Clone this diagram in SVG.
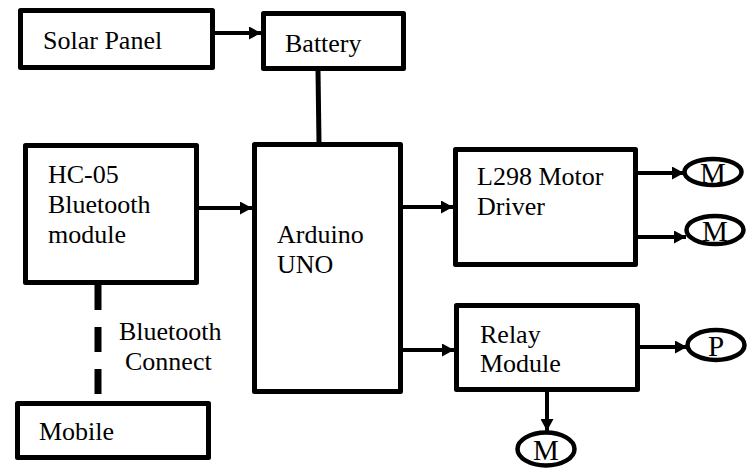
<svg xmlns="http://www.w3.org/2000/svg" width="749" height="470" viewBox="0 0 749 470">
<defs>
<marker id="ah" markerUnits="userSpaceOnUse" markerWidth="13" markerHeight="13" refX="12" refY="6.5" orient="auto">
<path d="M0,0 L12,6.5 L0,13 Z" fill="#000"/>
</marker>
<style>
.box{fill:#fff;stroke:#000;stroke-width:5;stroke-linejoin:round}
.ell{fill:#fff;stroke:#000;stroke-width:4.5}
text{font-family:'Liberation Serif','Times New Roman',serif;fill:#000}
.t{font-size:26px}
.tm{font-size:29px;text-anchor:middle}
.c{stroke:#000;stroke-width:5;fill:none}
.ca{stroke:#000;stroke-width:4;fill:none;marker-end:url(#ah)}
</style>
</defs>
<rect width="749" height="470" fill="#fff"/>
<g id="connectors">
<line class="ca" x1="215" y1="33" x2="261" y2="33"/>
<line class="c" x1="318" y1="70" x2="319" y2="143"/>
<line class="ca" x1="199" y1="208" x2="252" y2="208"/>
<line class="ca" x1="403" y1="207" x2="453" y2="207"/>
<line class="ca" x1="638" y1="173" x2="684" y2="173"/>
<line class="ca" x1="638" y1="237" x2="686" y2="237"/>
<line class="ca" x1="403" y1="350" x2="454" y2="350"/>
<line class="ca" x1="640" y1="347" x2="687" y2="347"/>
<line class="ca" x1="547" y1="392" x2="547" y2="431"/>
<line x1="98" y1="285" x2="98" y2="394" stroke="#000" stroke-width="7" stroke-dasharray="25 17"/>
</g>
<g id="solar"><rect class="box" x="20.5" y="10.5" width="192" height="57"/><text class="t" x="43" y="49">Solar Panel</text></g>
<g id="battery"><rect class="box" x="263.5" y="13.5" width="140" height="55"/><text class="t" x="285" y="52">Battery</text></g>
<g id="hc05"><rect class="box" x="25.5" y="145.5" width="171" height="137"/><text class="t" x="48" y="183">HC-05</text><text class="t" x="48" y="213">Bluetooth</text><text class="t" x="48" y="243">module</text></g>
<g id="arduino"><rect class="box" x="254.5" y="144.5" width="146" height="247"/><text class="t" x="277" y="243">Arduino</text><text class="t" x="277" y="273">UNO</text></g>
<g id="l298"><rect class="box" x="455.5" y="149.5" width="180" height="115"/><text class="t" x="477" y="185">L298 Motor</text><text class="t" x="477" y="215">Driver</text></g>
<g id="relay"><rect class="box" x="456.5" y="305.5" width="181" height="84"/><text class="t" x="480" y="343">Relay</text><text class="t" x="480" y="372">Module</text></g>
<g id="mobile"><rect class="box" x="17.5" y="403.5" width="191" height="54"/><text class="t" x="39" y="440">Mobile</text></g>
<g id="btlabel"><text class="t" x="119" y="340">Bluetooth</text><text class="t" x="125" y="370">Connect</text></g>
<g id="m1"><ellipse class="ell" cx="713" cy="172" rx="28.5" ry="13"/><text class="tm" x="713" y="182.5">M</text></g>
<g id="m2"><ellipse class="ell" cx="715" cy="230" rx="28.5" ry="14"/><text class="tm" x="715" y="240.5">M</text></g>
<g id="p"><ellipse class="ell" cx="716" cy="345" rx="28.5" ry="15"/><text class="tm" x="716" y="355.5">P</text></g>
<g id="m3"><ellipse class="ell" cx="546" cy="449" rx="28.5" ry="16.5"/><text class="tm" x="546" y="459.5">M</text></g>
</svg>
